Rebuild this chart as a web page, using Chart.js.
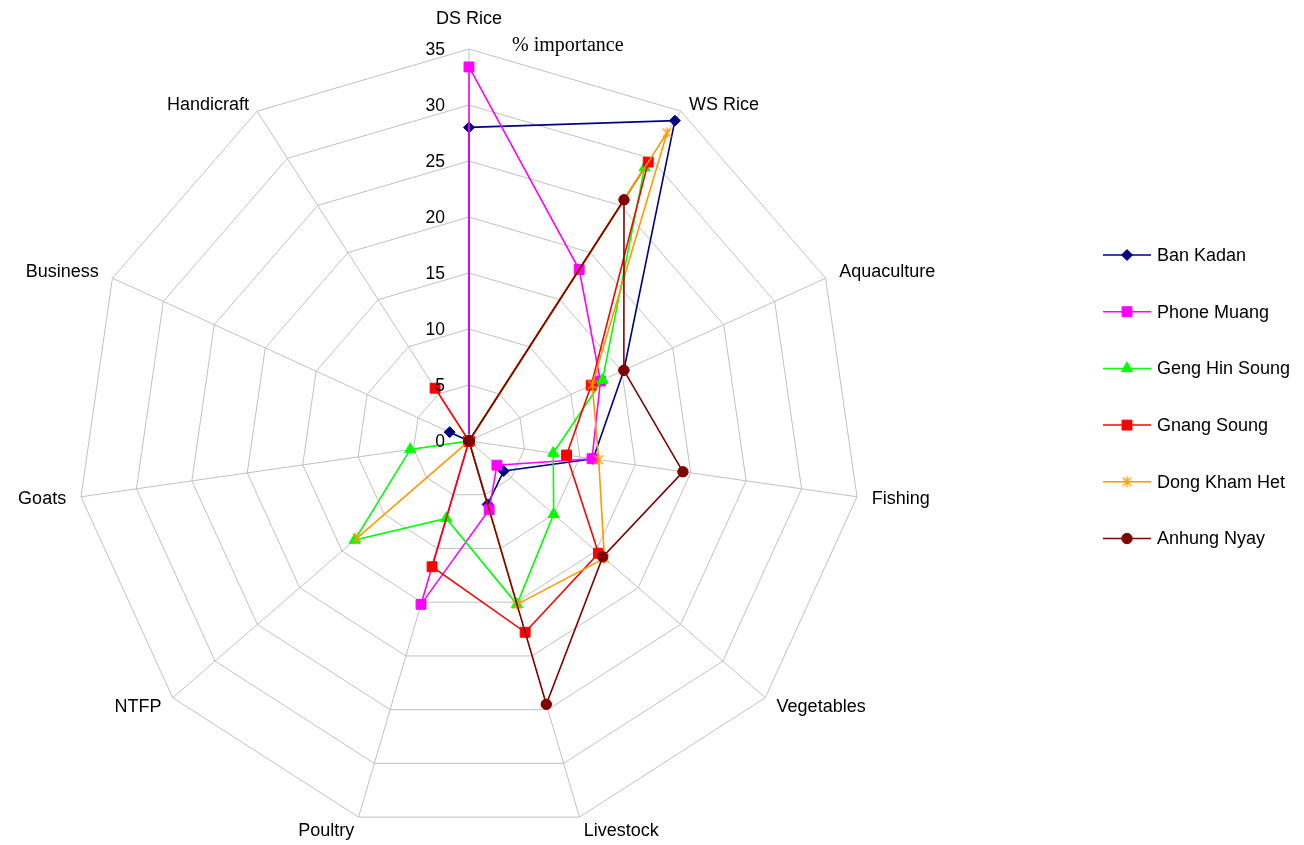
<!DOCTYPE html>
<html>
<head>
<meta charset="utf-8">
<script src="https://cdn.jsdelivr.net/npm/chart.js@4/dist/chart.umd.min.js"></script>
<style>
  html, body { margin: 0; padding: 0; background: #ffffff; overflow: hidden; }
  #wrap { position: relative; width: 1304px; height: 845px; }
</style>
</head>
<body>
<div id="wrap"><canvas id="radar" width="1304" height="845"></canvas></div>
<script>
// Livelihood activities around the radar
const categories = ['DS Rice', 'WS Rice', 'Aquaculture', 'Fishing', 'Vegetables', 'Livestock',
                    'Poultry', 'NTFP', 'Goats', 'Business', 'Handicraft'];

// Village names (legend order)
const villages = ['Ban Kadan', 'Phone Muang', 'Geng Hin Soung', 'Gnang Soung', 'Dong Kham Het', 'Anhung Nyay'];

// % importance of each activity per village
const banKadan     = [28,   34,   15.2, 11.2, 4.1,  5.9,  0,    0,    0,   1.9, 0];
const phoneMuang   = [33.4, 18.2, 12.9, 11.1, 3.3,  6.4,  15.2, 0,    0,   0,   0];
const gengHinSoung = [0,    29,   13.1, 7.6,  10,   15.2, 7.2,  13.5, 5.3, 0,   0];
const gnangSoung   = [0,    29.6, 12,   8.8,  15.3, 17.8, 11.7, 0,    0,   0,   5.6];
const dongKhamHet  = [0,    32.7, 12.1, 11.7, 16,   15.2, 0,    13.2, 0,   0,   0];
const anhungNyay   = [0,    25.6, 15.2, 19.3, 15.8, 24.5, 0,    0,    0,   0,   0];

// Radial axis ticks
const tickValues = [0, 5, 10, 15, 20, 25, 30, 35];
const axisTitle = '% importance';

const seriesValues = [banKadan, phoneMuang, gengHinSoung, gnangSoung, dongKhamHet, anhungNyay];
const seriesColors = ['#000080', '#FF00FF', '#00FF00', '#FF0000', '#FF9900', '#800000'];

// Asterisk marker: an X crossed by a vertical stroke
function asteriskMarker(color, size) {
  const c = document.createElement('canvas');
  c.width = size; c.height = size;
  const g = c.getContext('2d');
  g.strokeStyle = color;
  g.lineWidth = 1.4;
  const m = size / 2, a = size / 2 - 1;
  g.beginPath();
  g.moveTo(m - a * 0.78, m - a * 0.78); g.lineTo(m + a * 0.78, m + a * 0.78);
  g.moveTo(m + a * 0.78, m - a * 0.78); g.lineTo(m - a * 0.78, m + a * 0.78);
  g.moveTo(m, m - a); g.lineTo(m, m + a);
  g.stroke();
  return c;
}

const markerStyles = ['rectRot', 'rect', 'triangle', 'rect', asteriskMarker('#FF9900', 13), 'circle'];
const markerRadii = [5.5, 7, 6.5, 7, 6, 5.2];

const FONT_SANS = '"Liberation Sans", Arial, Helvetica, sans-serif';
const FONT_SERIF = '"Liberation Serif", "Times New Roman", serif';

const datasets = villages.map((name, i) => ({
  label: name,
  data: seriesValues[i],
  borderColor: seriesColors[i],
  backgroundColor: seriesColors[i],
  pointBackgroundColor: seriesColors[i],
  pointBorderColor: seriesColors[i],
  pointBorderWidth: 1,
  pointStyle: markerStyles[i],
  pointRadius: markerRadii[i],
  borderWidth: 1.6,
  fill: false,
  tension: 0,
  order: villages.length - i   // later villages drawn on top
}));

function drawMarker(ctx, style, radius, color, x, y) {
  const opts = { pointStyle: style, radius: radius, rotation: 0, borderWidth: 1 };
  ctx.save();
  ctx.fillStyle = color;
  ctx.strokeStyle = color;
  ctx.lineWidth = 1;
  Chart.helpers.drawPoint(ctx, opts, x, y);
  ctx.restore();
}

const annotations = {
  id: 'annotations',
  afterDraw(chart) {
    const s = chart.scales.r;
    const ctx = chart.ctx;
    ctx.save();
    ctx.fillStyle = '#000000';

    // value ticks, left of the vertical axis
    ctx.font = '17.5px ' + FONT_SANS;
    ctx.textAlign = 'right';
    ctx.textBaseline = 'middle';
    tickValues.forEach(v => {
      const p = s.getPointPositionForValue(0, v);
      ctx.fillText(String(v), p.x - 24, p.y + 1);
    });

    // activity labels around the web
    ctx.font = '18px ' + FONT_SANS;
    categories.forEach((label, i) => {
      const p = s.getPointPosition(i, s.drawingArea + 15);
      const dx = p.x - s.xCenter;
      const up = (s.yCenter - p.y) / (s.drawingArea + 15);
      let y = p.y;
      if (Math.abs(dx) < 1) {
        ctx.textAlign = 'center';
        ctx.textBaseline = 'bottom';
        y -= 6;
      } else {
        ctx.textAlign = dx > 0 ? 'left' : 'right';
        ctx.textBaseline = 'middle';
        if (up > 0.7) y += 6;
      }
      ctx.fillText(label, p.x, y);
    });

    // axis title
    ctx.font = '20px ' + FONT_SERIF;
    ctx.textAlign = 'left';
    ctx.textBaseline = 'middle';
    ctx.fillText(axisTitle, s.xCenter + 43, s.yCenter - s.drawingArea - 3);

    // legend
    const lx = 1103, ly = 255, step = 56.7;
    ctx.font = '18px ' + FONT_SANS;
    ctx.textAlign = 'left';
    ctx.textBaseline = 'middle';
    villages.forEach((name, i) => {
      const y = ly + step * i;
      ctx.strokeStyle = seriesColors[i];
      ctx.lineWidth = 1.5;
      ctx.beginPath();
      ctx.moveTo(lx, y);
      ctx.lineTo(lx + 48, y);
      ctx.stroke();
      drawMarker(ctx, markerStyles[i], markerRadii[i], seriesColors[i], lx + 24, y);
      ctx.fillStyle = '#000000';
      ctx.fillText(name, lx + 54, y + 1);
    });
    ctx.restore();
  }
};

new Chart(document.getElementById('radar'), {
  type: 'radar',
  data: { labels: categories, datasets: datasets },
  options: {
    responsive: false,
    animation: false,
    events: [],
    layout: { padding: { left: 77, top: 49, right: 443, bottom: 12 } },
    plugins: {
      legend: { display: false },
      tooltip: { enabled: false },
      title: { display: false }
    },
    scales: {
      r: {
        min: 0,
        max: 35,
        ticks: { stepSize: 5, display: false },
        grid: { color: '#c0c0c0', lineWidth: 1 },
        angleLines: { color: '#c0c0c0', lineWidth: 1 },
        pointLabels: { display: false }
      }
    }
  },
  plugins: [annotations]
});
</script>
</body>
</html>
